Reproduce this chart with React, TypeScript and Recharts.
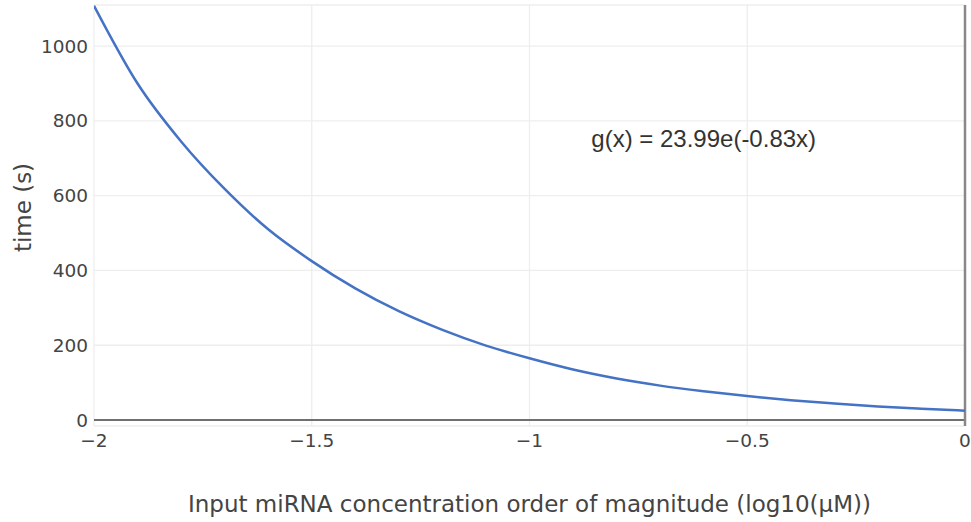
import React from 'react';
import { LineChart, Line, XAxis, YAxis, CartesianGrid, ReferenceLine, ReferenceDot } from 'recharts';

const xValues = [-2, -1.9, -1.8, -1.7, -1.6, -1.5, -1.4, -1.3, -1.2, -1.1, -1, -0.9, -0.8, -0.7, -0.6, -0.5, -0.4, -0.3, -0.2, -0.1, 0];
const timeValues = [1108, 900, 745, 618, 510, 425, 352, 291, 241, 199, 165, 135, 111, 92, 77, 64, 53, 44, 36, 30, 25];
const xTicks = [-2, -1.5, -1, -0.5, 0];
const yTicks = [0, 200, 400, 600, 800, 1000];
const annotationText = 'g(x) = 23.99e(-0.83x)';
const xTitle = 'Input miRNA concentration order of magnitude (log10(μM))';
const yTitle = 'time (s)';

const data = xValues.map((x, i) => ({ x, t: timeValues[i] }));

const fmtX = (v: number) => (v < 0 ? '\u2212' + String(Math.abs(v)) : String(v));

const FONT = '"DejaVu Sans", Verdana, sans-serif';
const tickStyle = { fontFamily: FONT, fontSize: 18.5, fill: '#444' };

const YTitle = (props: any) => {
  const vb = props.viewBox || { x: 0, y: 0, width: 0, height: 0 };
  const cx = 23;
  const cy = vb.y + vb.height / 2 - 8;
  return (
    <text
      x={cx}
      y={cy}
      transform={`rotate(-90, ${cx}, ${cy})`}
      textAnchor="middle"
      dominantBaseline="central"
      style={{ fontFamily: FONT, fontSize: 23, fill: '#444' }}
    >
      {yTitle}
    </text>
  );
};

export default function App() {
  return (
    <div style={{ position: 'absolute', left: 0, top: 0, background: '#fff' }}>
      <LineChart width={971} height={522} data={data} margin={{ top: 5, right: 6, bottom: 0, left: 0 }}>
        <CartesianGrid stroke="#eeeeee" strokeWidth={1.3} />
        <XAxis
          dataKey="x"
          type="number"
          domain={[-2, 0]}
          ticks={xTicks}
          tickFormatter={fmtX}
          axisLine={false}
          tickLine={false}
          tickSize={0}
          tickMargin={8}
          height={96}
          tick={tickStyle}
          allowDataOverflow
          label={{ value: xTitle, position: 'insideBottom', offset: 10, style: { fontFamily: FONT, fontSize: 23, fill: '#444' } }}
        />
        <YAxis
          type="number"
          domain={[-16, 1110]}
          ticks={yTicks}
          axisLine={false}
          tickLine={false}
          tickSize={0}
          tickMargin={6}
          width={94}
          tick={tickStyle}
          allowDataOverflow
          label={<YTitle />}
        />
        <ReferenceLine y={0} stroke="#444" strokeWidth={1.5} />
        <ReferenceLine x={0} stroke="#888" strokeWidth={2.5} />
        <Line type="monotone" dataKey="t" stroke="#4472c4" strokeWidth={2.5} dot={false} isAnimationActive={false} />
        <ReferenceDot
          x={-0.6}
          y={753}
          r={0}
          fill="none"
          stroke="none"
          label={{ value: annotationText, position: 'center', style: { fontFamily: '"Liberation Sans", Arial, sans-serif', fontSize: 24, fill: '#333' } }}
        />
      </LineChart>
    </div>
  );
}
